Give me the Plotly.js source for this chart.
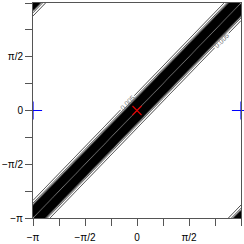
<!DOCTYPE html>
<html><head><meta charset="utf-8">
<script src="https://cdn.plot.ly/plotly-3.0.1.min.js"></script>
<style>html,body{margin:0;padding:0;background:#fff}#chart{width:244px;height:244px}</style>
</head><body><div id="chart"></div>
<script>
// Grid resolution over [-pi, pi]
const GRID_STEPS = 200;
// Density value vs. number of grid steps away from the main diagonal (x - y)
const bandProfile = [0.598, 0.585, 0.56, 0.52, 0.47, 0.40, 0.32, 0.24, 0.16, 0.10, 0.055, 0.03, 0.018, 0.0125, 0.0095, 0.0068, 0.0053, 0.0045, 0.003, 0.0015, 0];
// Density value vs. steps away from the wrapped copies in the corners (x - y = +/- 2pi)
const cornerProfile = [0.598, 0.5, 0.38, 0.25, 0.14, 0.07, 0.035, 0.02, 0.014, 0.0105, 0.008, 0.0062, 0.0051, 0.004, 0.002, 0];
// Contour levels
const levelStart = 0.005, levelEnd = 0.6, levelSize = 0.005;
const labelLevel = 0.005;
// Tick labels
const tickMultiples = [-1, -0.75, -0.5, -0.25, 0, 0.25, 0.5, 0.75, 1];
const tickText = ['\u2212\u03c0', '', '\u2212\u03c0/2', '', '0', '', '\u03c0/2', '', '\u03c0'];
// Points
const blueX = [-Math.PI, Math.PI], blueY = [0, 0];
const redX = [0], redY = [0];

const xs = [], ys = [];
for (let j = 0; j <= GRID_STEPS; j++) { const v = -Math.PI + j * 2 * Math.PI / GRID_STEPS; xs.push(v); ys.push(v); }
const z = [];
for (let i = 0; i <= GRID_STEPS; i++) {
  const row = [];
  for (let j = 0; j <= GRID_STEPS; j++) {
    const m = Math.abs(i - j);
    const kMain = m, kCorner = GRID_STEPS - m;
    let v = 0;
    if (kMain < bandProfile.length) v = Math.max(v, bandProfile[kMain]);
    if (kCorner < cornerProfile.length) v = Math.max(v, cornerProfile[kCorner]);
    row.push(v);
  }
  z.push(row);
}
const tickVals = tickMultiples.map(t => t * Math.PI);
const black = [[0, '#000'], [1, '#000']];
const blueMarker = {symbol: 'cross-thin-open', size: 13, color: '#0000ff', line: {color: '#0000ff', width: 1.2}};

const traces = [
  {type: 'contour', x: xs, y: ys, z: z, showscale: false, colorscale: black, autocontour: false,
   contours: {coloring: 'lines', start: levelStart + levelSize, end: levelEnd, size: levelSize},
   line: {width: 0.7}, hoverinfo: 'skip'},
  {type: 'contour', x: xs, y: ys, z: z, showscale: false, colorscale: black, autocontour: false,
   contours: {coloring: 'lines', start: labelLevel, end: labelLevel, size: 1, showlabels: true,
              labelfont: {size: 7, color: '#777', family: 'Liberation Sans, Arial'}},
   line: {width: 0.8}, hoverinfo: 'skip'},
  {type: 'scatter', mode: 'markers', x: blueX.slice(0, 1), y: blueY.slice(0, 1), cliponaxis: true, marker: blueMarker},
  {type: 'scatter', mode: 'markers', x: blueX.slice(1), y: blueY.slice(1), cliponaxis: false, marker: blueMarker},
  {type: 'scatter', mode: 'markers', x: redX, y: redY, cliponaxis: true,
   marker: {symbol: 'x-thin-open', size: 9, color: '#e00000', line: {color: '#e00000', width: 1.2}}}
];
const axis = {range: [-Math.PI, Math.PI], showgrid: false, zeroline: false, showline: true, mirror: true,
  linecolor: '#555', linewidth: 1, ticks: 'outside', ticklen: 7, tickwidth: 1, tickcolor: '#555',
  layer: 'above traces',
  tickmode: 'array', tickvals: tickVals, ticktext: tickText,
  tickfont: {family: 'Liberation Sans, Arial', size: 10, color: '#000'}};
const layout = {width: 244, height: 244, margin: {l: 33, r: 3, t: 3, b: 26},
  paper_bgcolor: '#fff', plot_bgcolor: '#fff', showlegend: false,
  xaxis: Object.assign({}, axis, {ticklabelstandoff: 3}), yaxis: Object.assign({}, axis)};
Plotly.newPlot('chart', traces, layout, {staticPlot: true});
</script></body></html>
